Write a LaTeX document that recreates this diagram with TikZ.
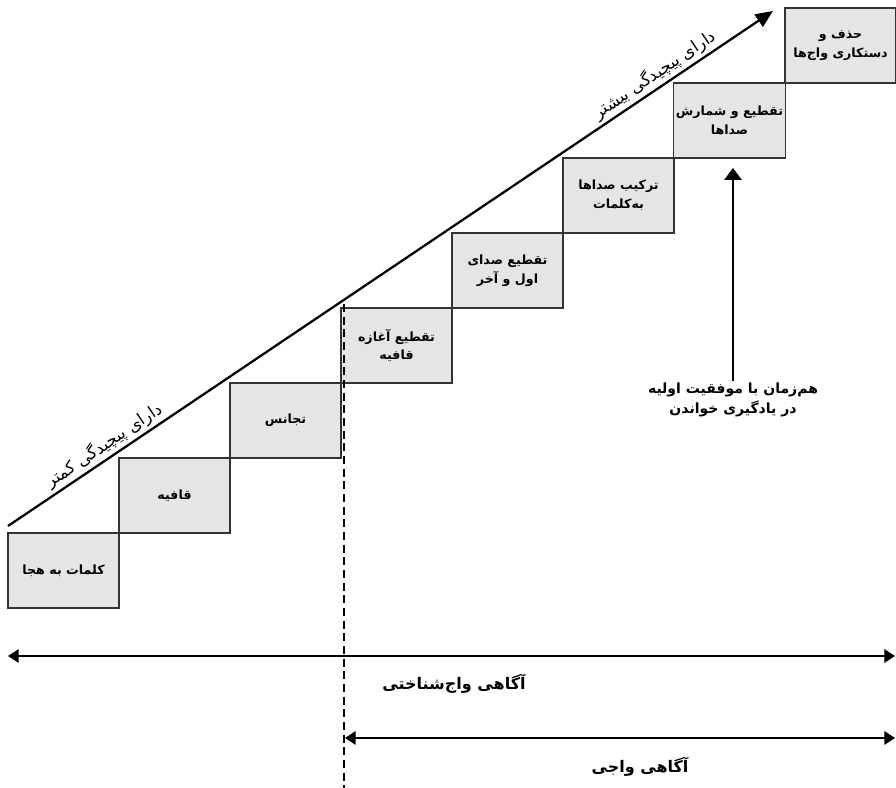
\documentclass[tikz,border=0pt]{standalone}
\usepackage{fontspec}
\newfontfamily\arabicfont[Script=Arabic]{DejaVu Sans}
\TeXXeTstate=1
\usetikzlibrary{arrows.meta}
\newcommand{\fa}[1]{\beginR #1\endR}

\begin{document}
\begin{tikzpicture}[
    x=0.75pt, y=-0.75pt,
    stair/.style={draw=black!80, fill=black!10, line width=0.9pt, minimum width=83.25pt, minimum height=56.25pt, align=center, inner sep=2pt, font=\arabicfont\bfseries\fontsize{9.5}{14}\selectfont},
    slope/.style={font=\arabicfont\fontsize{12.5}{14}\selectfont, sloped, above, inner sep=2pt},
    label/.style={font=\arabicfont\bfseries\fontsize{10.5}{15}\selectfont, align=center, inner sep=1pt},
    arrow/.style={-{Triangle[length=13pt, width=11pt]}, line width=1.7pt},
    span/.style={{Triangle[length=8pt, width=10pt]}-{Triangle[length=8pt, width=10pt]}, line width=1.7pt},
    uparrow/.style={-{Triangle[length=9pt, width=13pt]}, line width=1.5pt}
]
    \useasboundingbox (0,0) rectangle (896,788);

    % پله‌ها
    \node[stair] (s1) at (63.5, 570.5) {\fa{کلمات به هجا}};
    \node[stair] (s2) at (174.5, 495.5) {\fa{قافیه}};
    \node[stair] (s3) at (285.5, 420.5) {\fa{تجانس}};
    \node[stair] (s4) at (396.5, 345.5) {\fa{تقطیع آغازه}\\\fa{قافیه}};
    \node[stair] (s5) at (507.5, 270.5) {\fa{تقطیع صدای}\\\fa{اول و آخر}};
    \node[stair] (s6) at (618.5, 195.5) {\fa{ترکیب صداها}\\\fa{به‌کلمات}};
    \node[stair] (s7) at (729.5, 120.5) {\fa{تقطیع و شمارش}\\\fa{صداها}};
    \node[stair] (s8) at (840.5, 45.5) {\fa{حذف و}\\\fa{دستکاری واج‌ها}};

    % پیکان پیچیدگی
    \coordinate (low) at (8, 526);
    \coordinate (high) at (773, 11);
    \draw[arrow] (low) -- (high)
        node[slope, pos=0.135] (less) {\fa{دارای پیچیدگی کمتر}}
        node[slope, pos=0.855] (more) {\fa{دارای پیچیدگی بیشتر}};

    % مرز آگاهی واجی
    \coordinate (cuttop) at (344, 304);
    \coordinate (cutbot) at (344, 788);
    \draw[line width=1.5pt, dash pattern=on 6pt off 3.5pt] (cuttop) -- (cutbot);

    % هم‌زمان با خواندن
    \coordinate (goal) at (733, 168);
    \node[label, anchor=north] (note) at (733, 381) {\fa{هم‌زمان با موفقیت اولیه}\\\fa{در یادگیری خواندن}};
    \draw[uparrow] (note.north) -- (goal);

    % دامنه‌ها
    \coordinate (wl) at (8, 656);
    \coordinate (wr) at (895, 656);
    \draw[span] (wl) -- (wr);
    \node[label, font=\arabicfont\bfseries\fontsize{12}{15}\selectfont] (wide) at (454, 684) {\fa{آگاهی واج‌شناختی}};

    \coordinate (nl) at (345, 738);
    \coordinate (nr) at (895, 738);
    \draw[span] (nl) -- (nr);
    \node[label, font=\arabicfont\bfseries\fontsize{12}{15}\selectfont] (narrow) at (640, 767) {\fa{آگاهی واجی}};
\end{tikzpicture}
\end{document}
